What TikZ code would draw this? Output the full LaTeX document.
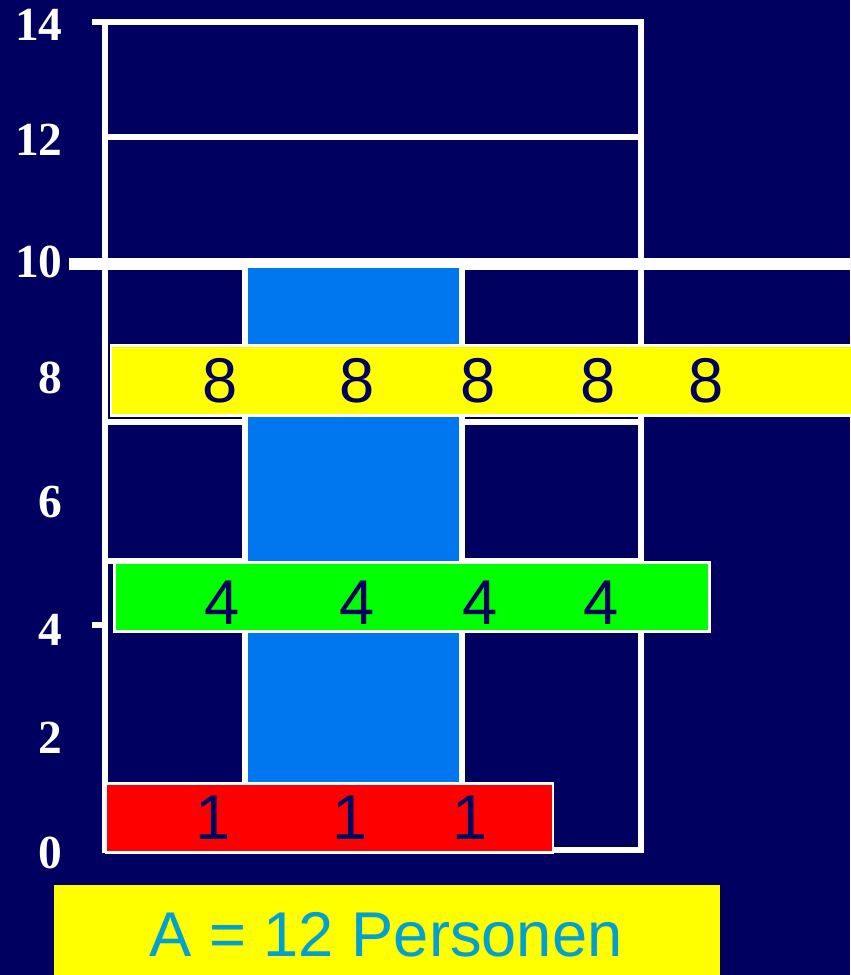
\documentclass[tikz,border=0pt]{standalone}
\usepackage{fontspec}
\newfontfamily\arialfont{Liberation Sans}
\newfontfamily\timesfont{Liberation Serif}
\definecolor{bgnavy}{RGB}{0,0,96}
\definecolor{colblue}{RGB}{0,119,238}
\definecolor{barred}{RGB}{255,0,0}
\definecolor{bargreen}{RGB}{0,255,0}
\definecolor{baryellow}{RGB}{255,255,0}
\definecolor{labcyan}{RGB}{0,160,210}
\usetikzlibrary{positioning}

\begin{document}
\begin{tikzpicture}[x=0.02cm,y=-0.02cm,
  gridline/.style={white,line width=3.4pt},
  bar/.style={draw=white,line width=1.7pt},
  num/.style={font=\arialfont\fontsize{36}{40}\selectfont,text=bgnavy,inner sep=0pt},
  axlbl/.style={font=\timesfont\bfseries\fontsize{27}{30}\selectfont,text=white,inner sep=0pt,anchor=east}]
  % Background
  \useasboundingbox (0,0) rectangle (850,975);
  \fill[bgnavy] (0,0) rectangle (850,975);
  % Axis labels
  \foreach \v/\y in {14/25,12/140,10/262,8/378,6/502,4/630,2/738,0/853}
    \node[axlbl] (ax\v) at (63,\y) {\v};
  % Grid of cells
  \draw[gridline] (92,22) -- (641,22);
  \draw[gridline] (92,625) -- (105,625);
  \draw[gridline] (105,22) -- (105,853);
  \draw[gridline] (641,19) -- (641,853);
  \draw[gridline] (105,137) -- (641,137);
  \draw[gridline] (245,264) -- (245,782);
  \draw[gridline] (462,264) -- (462,782);
  \draw[gridline] (105,422) -- (641,422);
  \draw[gridline] (105,561) -- (641,561);
  \draw[gridline] (105,850) -- (641,850);
  \draw[white,line width=6.8pt] (69,264) -- (850,264);
  % Blue column
  \fill[colblue] (248,268) rectangle (459,782);
  % Bars
  \draw[bar,fill=baryellow] (111,345) rectangle (862,415);
  \draw[bar,fill=bargreen] (114.5,562.5) rectangle (709.5,631.5);
  \draw[bar,fill=barred] (106,783.5) rectangle (553,852.5);
  % Numbers in the bars
  \foreach \x [count=\i] in {220,357,478,598,706}
    \node[num] (e\i) at (\x,381) {8};
  \foreach \x [count=\i] in {222,357,480,601}
    \node[num] (v\i) at (\x,603) {4};
  \foreach \x [count=\i] in {213,350,470}
    \node[num] (o\i) at (\x,818) {1};
  % Result
  \fill[baryellow] (54,885) rectangle (720,975);
  \node[num,text=labcyan] (res) at (386,935) {A = 12 Personen};
\end{tikzpicture}
\end{document}
